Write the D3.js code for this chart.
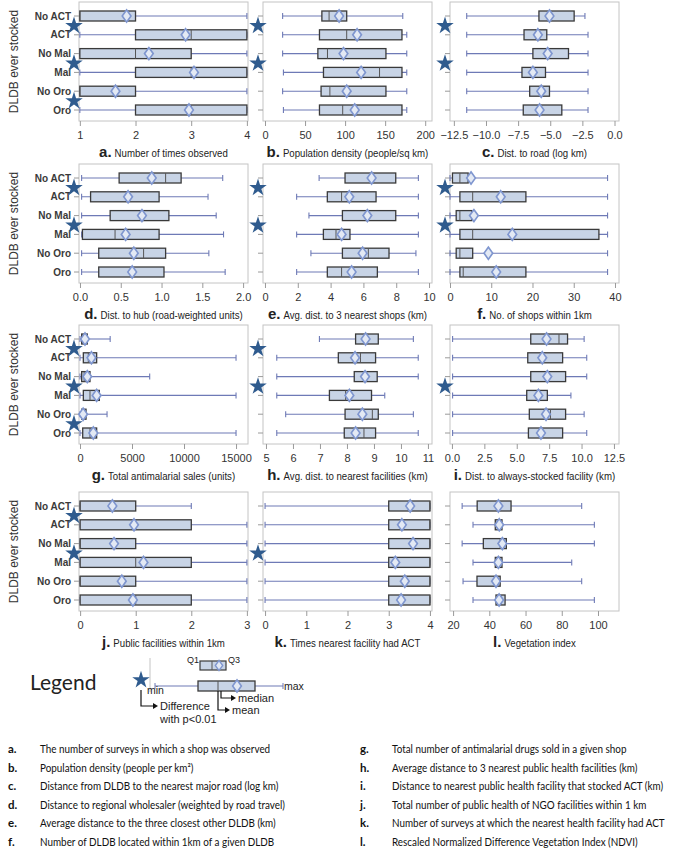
<!DOCTYPE html>
<html><head><meta charset="utf-8">
<script src="https://cdn.jsdelivr.net/npm/d3@7"></script>
<style>body{margin:0;background:#fff} svg{display:block}</style>
</head><body>
<svg id="c" width="685" height="852"></svg>
<script>
const categories = ["No ACT","ACT","No Mal","Mal","No Oro","Oro"];
// each entry: [min, q1, median, q3, max, mean]
const statsA = [[1,1,1,2,4,1.84],[1,2,3,4,4,2.9],[1,1,2,3,4,2.24],[1,2,3,4,4,3.05],[1,1,1,2,4,1.64],[1,2,3,4,4,2.96]];
const statsB = [[22,71,80,102,172,92.5],[22,68,102,171,177,115],[22,66,78,151,177,98],[23,73,143,171,177,120],[22,70,81,151,177,102],[23,68,97,171,177,112]];
const statsC = [[-11.5,-5.88,-5.15,-3.14,-2.3,-5.06],[-11.5,-7.04,-6.1,-5.27,-2.06,-5.96],[-11.5,-6.35,-5.3,-3.58,-2.06,-5.2],[-11.5,-7.2,-6.4,-5.37,-2.06,-6.35],[-11.5,-6.6,-5.8,-5.06,-2.06,-5.7],[-11.5,-7.1,-5.96,-4.1,-2.06,-5.83]];
const statsD = [[0.02,0.48,1.05,1.24,1.75,0.88],[0.02,0.13,0.6,0.97,1.57,0.59],[0.02,0.37,0.74,1.09,1.67,0.76],[0.02,0.03,0.43,0.97,1.76,0.56],[0.02,0.23,0.78,1.05,1.58,0.66],[0.02,0.23,0.65,1.03,1.78,0.64]];
const statsE = [[3.3,4.88,6.55,7.97,9.35,6.5],[1.93,3.8,4.67,6.77,9.35,5.14],[2.68,4.72,6.2,7.97,9.35,6.24],[1.93,3.56,4.33,5.18,9.35,4.67],[2.8,4.72,6.3,7.56,9.2,5.95],[1.93,3.8,4.67,6.85,9.35,5.28]];
const statsF = [[0,0.6,2.4,4.4,38.2,5.1],[0,2.4,5.5,18.4,38.2,12.3],[0,1.5,2.4,5.3,38.2,5.8],[0,2.4,5.5,36.1,38.2,15.1],[0,1.5,2.4,5.5,38.2,9.3],[0,2.4,3.2,18.4,38.2,11.2]];
const statsG = [[0,160,250,700,2900,480],[0,320,800,1600,15000,1100],[0,160,400,960,6700,700],[0,320,960,1860,15000,1600],[0,160,220,580,2600,300],[0,260,960,1600,15000,1280]];
const statsH = [[6.98,8.32,8.73,9.16,10.46,8.69],[5.4,7.68,8.5,9.06,10.64,8.3],[5.4,8.27,8.73,9.12,10.64,8.67],[5.4,7.35,7.95,8.91,9.4,8.09],[5.73,7.93,8.94,9.16,10.46,8.57],[5.4,7.9,8.63,9.06,10.64,8.32]];
const statsI = [[0.05,6.08,8.26,8.92,10.2,7.3],[0.05,5.85,6.9,8.54,10.4,6.97],[0.05,6.08,7.4,8.77,10.4,7.36],[0.05,5.77,6.55,7.36,9.18,6.67],[0.05,5.97,7.6,8.77,10.2,7.26],[0.05,5.9,6.87,8.54,10.4,6.87]];
const statsJ = [[0,0,0,1,2,0.58],[0,0,1,2,3,0.97],[0,0,0,1,3,0.61],[0,0,1,2,3,1.14],[0,0,0,1,3,0.75],[0,0,1,2,3,0.95]];
const statsK = [[0,3,4,4,4,3.52],[0,3,4,4,4,3.32],[0,3,4,4,4,3.59],[0,3,4,4,4,3.16],[0,3,4,4,4,3.39],[0,3,4,4,4,3.3]];
const statsL = [[25,33.3,44,52,91,45],[31,43.3,45.5,47,98,45.5],[25,36.7,46,49.4,98,47.2],[31,43.3,45,47,85.5,45],[25.5,33.2,44,46,91,43.7],[31,43.7,46.5,48.7,98,45.4]];

const sigA = ["ACT","Mal","Oro"], sigB = ["ACT","Mal"], sigC = ["ACT","Mal"];
const sigD = ["ACT","Mal"], sigE = ["ACT","Mal"], sigF = ["ACT","Mal"];
const sigG = ["ACT","Mal","Oro"], sigH = ["ACT","Mal"], sigI = ["Mal"];
const sigJ = ["ACT","Mal"], sigK = ["Mal"], sigL = [];

const ticksA = [1,2,3,4], ticksB = [0,50,100,150,200], ticksC = [-12.5,-10,-7.5,-5,-2.5,0];
const ticksD = [0,0.5,1,1.5,2], ticksE = [0,2,4,6,8,10], ticksF = [0,10,20,30,40];
const ticksG = [0,5000,10000,15000], ticksH = [5,6,7,8,9,10,11], ticksI = [0,2.5,5,7.5,10,12.5];
const ticksJ = [0,1,2,3], ticksK = [0,1,2,3,4], ticksL = [20,40,60,80,100];

const titles = ["Number of times observed","Population density (people/sq km)","Dist. to road (log km)",
  "Dist. to hub (road-weighted units)","Avg. dist. to 3 nearest shops (km)","No. of shops within 1km",
  "Total antimalarial sales (units)","Avg. dist. to nearest facilities (km)","Dist. to always-stocked facility (km)",
  "Public facilities within 1km","Times nearest facility had ACT","Vegetation index"];
const letters = ["a","b","c","d","e","f","g","h","i","j","k","l"];

const notesLeft = ["The number of surveys in which a shop was observed","Population density (people per km²)",
  "Distance from DLDB to the nearest major road (log km)","Distance to regional wholesaler (weighted by road travel)",
  "Average distance to the three closest other DLDB (km)","Number of DLDB located within 1km of a given DLDB"];
const notesRight = ["Total number of antimalarial drugs sold in a given shop","Average distance to 3 nearest public health facilities (km)",
  "Distance to nearest public health facility that stocked ACT (km)","Total number of public health of NGO facilities within 1 km",
  "Number of surveys at which the nearest health facility had ACT","Rescaled Normalized Difference Vegetation Index (NDVI)"];

const panels = [
  {stats:statsA, sig:sigA, ticks:ticksA, domain:[0.985,4.02], fmt:d3.format("d")},
  {stats:statsB, sig:sigB, ticks:ticksB, domain:[-2.5,208.5], fmt:d3.format("d")},
  {stats:statsC, sig:sigC, ticks:ticksC, domain:[-12.8,0.35], fmt:d3.format(".1f")},
  {stats:statsD, sig:sigD, ticks:ticksD, domain:[-0.012,2.06], fmt:d3.format(".1f")},
  {stats:statsE, sig:sigE, ticks:ticksE, domain:[-0.12,10.18], fmt:d3.format("d")},
  {stats:statsF, sig:sigF, ticks:ticksF, domain:[0,40.97], fmt:d3.format("d")},
  {stats:statsG, sig:sigG, ticks:ticksG, domain:[-96,16150], fmt:d3.format("d")},
  {stats:statsH, sig:sigH, ticks:ticksH, domain:[4.89,11.15], fmt:d3.format("d")},
  {stats:statsI, sig:sigI, ticks:ticksI, domain:[-0.15,12.89], fmt:d3.format(".1f")},
  {stats:statsJ, sig:sigJ, ticks:ticksJ, domain:[-0.02,3.02], fmt:d3.format("d")},
  {stats:statsK, sig:sigK, ticks:ticksK, domain:[-0.05,4.05], fmt:d3.format("d")},
  {stats:statsL, sig:sigL, ticks:ticksL, domain:[18.3,111.6], fmt:d3.format("d")}
];

const svg = d3.select("#c");
const FONT = "'Liberation Sans', Arial, sans-serif";
const LF = "Lato, 'Open Sans', sans-serif";
const colLeft = [79, 263, 450], W = 169;
const rowTop = [2, 164, 325, 492], H = 119;
const boxFill = "#c8d4e6", boxStroke = "#3a3a3a", whisk = "#6e7ab6", meanStroke = "#7f96cf", starFill = "#2f5b8e";

// horizontally condensed text (emulates the narrower original font); returns drawn width
function condensed(parent, str, px, py, f, maxW, attrs) {
  const t = parent.append("text").attr("x", 0).attr("y", 0).text(str);
  Object.entries(attrs || {}).forEach(([k, v]) => t.attr(k, v));
  const nat = t.node().getComputedTextLength();
  let s = f;
  if (maxW && nat * s > maxW) s = maxW / nat;
  t.attr("transform", `translate(${px},${py}) scale(${s},1)`);
  return { node: t, width: nat * s, place: (nx) => t.attr("transform", `translate(${nx},${py}) scale(${s},1)`) };
}

panels.forEach((p, idx) => {
  const r = Math.floor(idx / 3), c = idx % 3;
  const x0 = colLeft[c], y0 = rowTop[r];
  const x = d3.scaleLinear().domain(p.domain).range([x0, x0 + W]);
  const y = d3.scalePoint().domain(categories).range([y0 + 14, y0 + 108]);
  const g = svg.append("g");

  g.append("rect").attr("x", x0).attr("y", y0).attr("width", W).attr("height", H)
    .attr("fill", "none").attr("stroke", "#c4c4c4").attr("stroke-width", 1);

  g.selectAll(".ct").data(categories).join("line")
    .attr("x1", x0 - 5).attr("x2", x0).attr("y1", d => y(d)).attr("y2", d => y(d))
    .attr("stroke", "#9a9a9a");

  if (c === 0) {
    g.selectAll(".cl").data(categories).join("text")
      .attr("x", x0 - 8).attr("y", d => y(d) + 3.5).attr("text-anchor", "end")
      .attr("font-family", FONT).attr("font-size", 10).attr("font-weight", "bold").attr("fill", "#3a3a3a")
      .text(d => d);
    g.append("text").attr("transform", `translate(18,${y0 + H / 2}) rotate(-90)`)
      .attr("text-anchor", "middle").attr("font-family", FONT).attr("font-size", 12).attr("fill", "#333")
      .text("DLDB ever stocked");
  }

  const ax = g.append("g").attr("transform", `translate(0,${y0 + H})`)
    .call(d3.axisBottom(x).tickValues(p.ticks).tickSize(5).tickFormat(p.fmt));
  ax.select(".domain").remove();
  ax.selectAll("line").attr("stroke", "#9a9a9a");
  ax.selectAll("text").attr("font-family", FONT).attr("font-size", 11).attr("fill", "#333").attr("dy", "0.95em");

  p.stats.forEach((s, i) => {
    const cy = y(categories[i]);
    const [mn, q1, md, q3, mx, mean] = s;
    g.append("line").attr("x1", x(mn)).attr("x2", x(mx)).attr("y1", cy).attr("y2", cy)
      .attr("stroke", whisk).attr("stroke-width", 1.1);
    [mn, mx].forEach(v => g.append("line").attr("x1", x(v)).attr("x2", x(v)).attr("y1", cy - 3).attr("y2", cy + 3)
      .attr("stroke", whisk).attr("stroke-width", 1.1));
    g.append("rect").attr("x", x(q1)).attr("y", cy - 5).attr("width", Math.max(0.5, x(q3) - x(q1))).attr("height", 10)
      .attr("fill", boxFill).attr("stroke", boxStroke).attr("stroke-width", 1.3);
    g.append("line").attr("x1", x(md)).attr("x2", x(md)).attr("y1", cy - 5).attr("y2", cy + 5)
      .attr("stroke", "#555").attr("stroke-width", 1);
    g.append("path").attr("d", d3.symbol(d3.symbolDiamond, 42)())
      .attr("transform", `translate(${x(mean)},${cy}) scale(1.25,1)`)
      .attr("fill", "#e3e9f4").attr("stroke", meanStroke).attr("stroke-width", 1.4);
  });

  g.selectAll(".st").data(p.sig).join("path")
    .attr("d", d3.symbol(d3.symbolStar, 95)())
    .attr("transform", d => `translate(${x0 - 5},${y(d) - 9})`)
    .attr("fill", starFill);

  // panel label: bold letter + condensed title, centred under the panel
  const ly = y0 + H + 36;
  const lt = g.append("text").attr("y", ly).attr("font-family", FONT).attr("font-size", 15)
    .attr("font-weight", "bold").attr("fill", "#222").text(letters[idx] + ".");
  const lw = lt.node().getComputedTextLength();
  const tt = condensed(g, titles[idx], 0, ly, 0.84, 160 - lw,
    {"font-family": FONT, "font-size": 11.5, "fill": "#222"});
  const sx = x0 + W / 2 - (lw + 3 + tt.width) / 2;
  lt.attr("x", sx);
  tt.place(sx + lw + 3);
});

// Legend
const L = svg.append("g");
L.append("text").attr("x", 30).attr("y", 690).attr("font-family", LF).attr("font-size", 21).attr("fill", "#222").text("Legend");
L.append("text").attr("x", 187).attr("y", 663).attr("font-family", FONT).attr("font-size", 9).attr("fill", "#222").text("Q1");
L.append("text").attr("x", 228).attr("y", 663).attr("font-family", FONT).attr("font-size", 9).attr("fill", "#222").text("Q3");
L.append("line").attr("x1", 150).attr("x2", 150).attr("y1", 658).attr("y2", 692).attr("stroke", "#c4c4c4");
L.append("rect").attr("x", 200).attr("y", 661).attr("width", 26).attr("height", 9).attr("fill", boxFill).attr("stroke", boxStroke).attr("stroke-width", 1.2);
L.append("line").attr("x1", 212).attr("x2", 212).attr("y1", 661).attr("y2", 670).attr("stroke", "#555");
L.append("path").attr("d", d3.symbol(d3.symbolDiamond, 30)()).attr("transform", "translate(219,665.5) scale(1.25,1)")
  .attr("fill", "#e3e9f4").attr("stroke", meanStroke).attr("stroke-width", 1.2);
L.append("line").attr("x1", 155).attr("x2", 283).attr("y1", 686).attr("y2", 686).attr("stroke", whisk).attr("stroke-width", 1.1);
[155, 283].forEach(v => L.append("line").attr("x1", v).attr("x2", v).attr("y1", 683).attr("y2", 689).attr("stroke", whisk));
L.append("rect").attr("x", 198).attr("y", 681).attr("width", 57).attr("height", 10).attr("fill", boxFill).attr("stroke", boxStroke).attr("stroke-width", 1.3);
L.append("line").attr("x1", 218).attr("x2", 218).attr("y1", 681).attr("y2", 691).attr("stroke", "#555");
L.append("path").attr("d", d3.symbol(d3.symbolDiamond, 42)()).attr("transform", "translate(237,686) scale(1.25,1)")
  .attr("fill", "#e3e9f4").attr("stroke", meanStroke).attr("stroke-width", 1.4);
L.append("path").attr("d", d3.symbol(d3.symbolStar, 95)()).attr("transform", "translate(141,680)").attr("fill", starFill);
L.append("text").attr("x", 284).attr("y", 690).attr("font-family", FONT).attr("font-size", 10.5).attr("fill", "#222").text("max");
L.append("text").attr("x", 147).attr("y", 694).attr("font-family", FONT).attr("font-size", 10.5).attr("fill", "#222").text("min");
const arrow = (pts, tip) => {
  L.append("path").attr("d", d3.line()(pts)).attr("fill", "none").attr("stroke", "#111").attr("stroke-width", 1.2);
  L.append("path").attr("d", `M${tip[0]},${tip[1]} l-5,-3 l0,6 z`).attr("fill", "#111");
};
arrow([[141, 690], [141, 706], [154, 706]], [158, 706]);
L.append("text").attr("x", 160).attr("y", 710).attr("font-family", FONT).attr("font-size", 11).attr("fill", "#222").text("Difference");
L.append("text").attr("x", 160).attr("y", 723).attr("font-family", FONT).attr("font-size", 11).attr("fill", "#222").text("with p<0.01");
arrow([[221, 691], [221, 698], [232, 698]], [236, 698]);
L.append("text").attr("x", 238).attr("y", 702).attr("font-family", FONT).attr("font-size", 11).attr("fill", "#222").text("median");
arrow([[218, 691], [218, 710], [226, 710]], [230, 710]);
L.append("text").attr("x", 232).attr("y", 714).attr("font-family", FONT).attr("font-size", 11).attr("fill", "#222").text("mean");

// Footnotes
const N = svg.append("g");
const noteAttrs = {"font-family": LF, "font-size": 11.5, "fill": "#111"};
notesLeft.forEach((t, i) => {
  const yy = 753 + i * 18.5;
  N.append("text").attr("x", 8).attr("y", yy).attr("font-family", LF).attr("font-size", 11.5)
    .attr("font-weight", "bold").attr("fill", "#111").text(letters[i] + ".");
  condensed(N, t, 40, yy, 0.86, 305, noteAttrs);
});
notesRight.forEach((t, i) => {
  const yy = 753 + i * 18.5;
  N.append("text").attr("x", 360).attr("y", yy).attr("font-family", LF).attr("font-size", 11.5)
    .attr("font-weight", "bold").attr("fill", "#111").text(letters[i + 6] + ".");
  condensed(N, t, 392, yy, 0.86, 285, noteAttrs);
});
</script>
</body></html>
